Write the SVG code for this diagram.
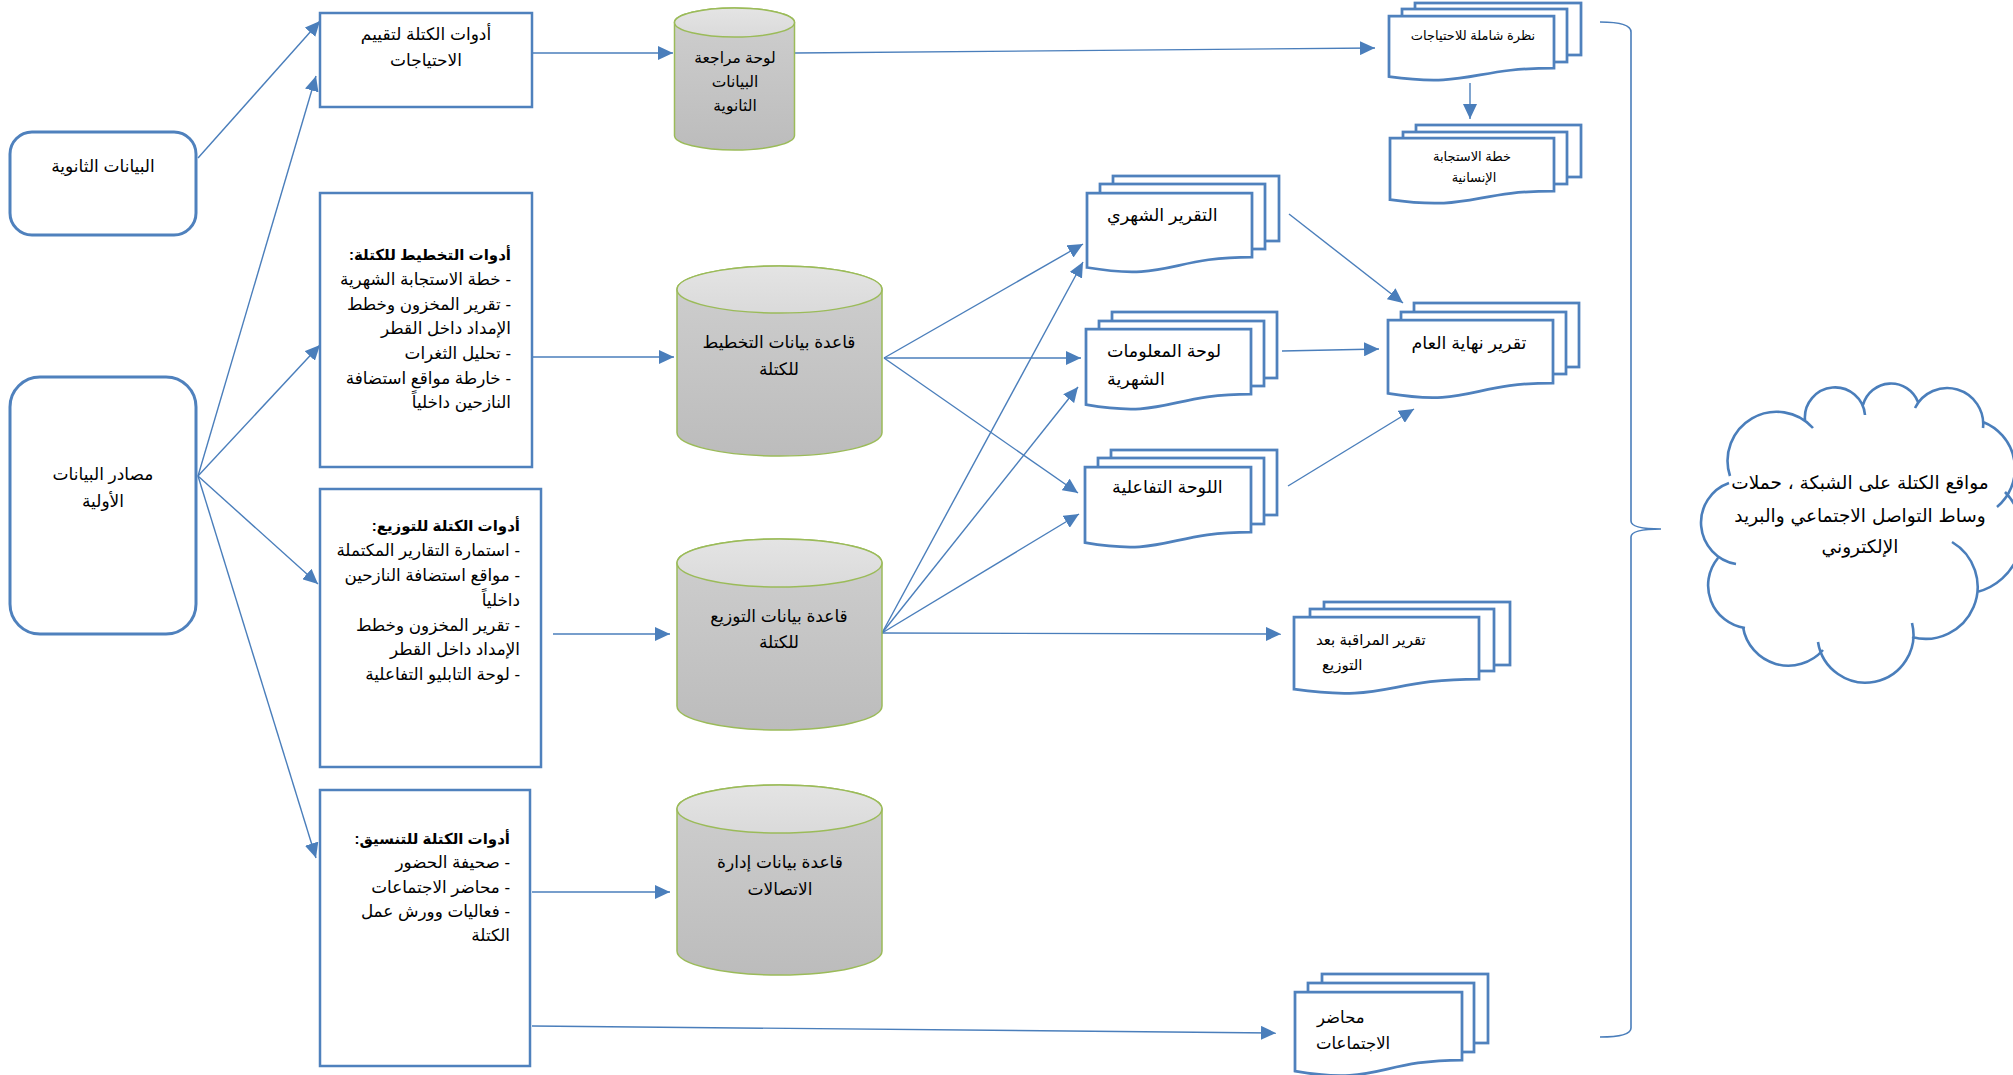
<svg xmlns="http://www.w3.org/2000/svg" width="2013" height="1075" viewBox="0 0 2013 1075">
<style>
  .box{fill:#fff;stroke:#4F81BD;stroke-width:2.5}
  .rbox{fill:#fff;stroke:#4F81BD;stroke-width:3}
  .doc{fill:#fff;stroke:#4F81BD;stroke-width:2.75}
  .cylb{fill:url(#gBody);stroke:#9BBB59;stroke-width:1.5}
  .cylt{fill:url(#gTop);stroke:#9BBB59;stroke-width:1.5}
  .conn{fill:none;stroke:#4A7EBB;stroke-width:1.4;marker-end:url(#arr)}
  .line{fill:none;stroke:#4A7EBB;stroke-width:1.6}
  .cloud{fill:none;stroke:#4A7EBB;stroke-width:2.6}
  text{font-family:"Liberation Sans","DejaVu Sans",sans-serif;font-size:16.8px;fill:#000}
  .rtl{direction:rtl}
  .c{text-anchor:middle}
  .b{font-weight:bold;font-size:15px}
  .cl{font-family:"DejaVu Sans",sans-serif;font-size:18.5px}
</style>
<defs>
  <marker id="arr" markerUnits="userSpaceOnUse" markerWidth="16" markerHeight="14" refX="15" refY="7" orient="auto">
    <path d="M0,0 L15,7 L0,14 z" fill="#4A7EBB"/>
  </marker>
  <linearGradient id="gBody" x1="0" y1="0" x2="0" y2="1">
    <stop offset="0" stop-color="#cfcfcf"/>
    <stop offset="1" stop-color="#bcbcbc"/>
  </linearGradient>
  <linearGradient id="gTop" x1="0" y1="0" x2="0" y2="1">
    <stop offset="0" stop-color="#e4e4e4"/>
    <stop offset="1" stop-color="#dadada"/>
  </linearGradient>
</defs>

<g id="connectors">
  <path class="conn" d="M198,158 L320,21"/>
  <path class="conn" d="M198,476 L316,76"/>
  <path class="conn" d="M198,476 L320,345"/>
  <path class="conn" d="M198,476 L318,584"/>
  <path class="conn" d="M198,476 L316,858"/>
  <path class="conn" d="M532,53 L673,53"/>
  <path class="conn" d="M795,53 L1375,48"/>
  <path class="conn" d="M1470,83 L1470,119"/>
  <path class="conn" d="M532,357 L674,357"/>
  <path class="conn" d="M553,634 L670,634"/>
  <path class="conn" d="M532,892 L670,892"/>
  <path class="conn" d="M532,1026 L1276,1033"/>
  <path class="conn" d="M884,358 L1083,244"/>
  <path class="conn" d="M884,358 L1081,358"/>
  <path class="conn" d="M884,358 L1078,493"/>
  <path class="conn" d="M882,633 L1083,262"/>
  <path class="conn" d="M882,633 L1078,387"/>
  <path class="conn" d="M882,633 L1079,514"/>
  <path class="conn" d="M882,633 L1281,634"/>
  <path class="conn" d="M1289,214 L1403,303"/>
  <path class="conn" d="M1282,351 L1379,349"/>
  <path class="conn" d="M1288,486 L1414,409"/>
</g>

<g id="n-secondary">
  <rect class="rbox" x="10" y="132" width="186" height="103" rx="22"/>
  <text class="c rtl" x="103" y="172" style="font-size:17px">البيانات الثانوية</text>
</g>
<g id="n-primary">
  <rect class="rbox" x="10" y="377" width="186" height="257" rx="30"/>
  <text class="c rtl" x="103" y="480" style="font-size:17px">مصادر البيانات</text>
  <text class="c rtl" x="103" y="507" style="font-size:17px">الأولية</text>
</g>

<g id="n-needs-tools">
  <rect class="box" x="320" y="13" width="212" height="94"/>
  <text class="c rtl" x="426" y="40" style="font-size:17px">أدوات الكتلة لتقييم</text>
  <text class="c rtl" x="426" y="66" style="font-size:17px">الاحتياجات</text>
</g>
<g id="n-planning-tools">
  <rect class="box" x="320" y="193" width="212" height="274"/>
  <text class="rtl b" x="511" y="260">أدوات التخطيط للكتلة:</text>
  <text class="rtl" x="511" y="285">- خطة الاستجابة الشهرية</text>
  <text class="rtl" x="511" y="310">- تقرير المخزون وخطط</text>
  <text class="rtl" x="511" y="334">الإمداد داخل القطر</text>
  <text class="rtl" x="511" y="359">- تحليل الثغرات</text>
  <text class="rtl" x="511" y="384">- خارطة مواقع استضافة</text>
  <text class="rtl" x="511" y="408">النازحين داخلياً</text>
</g>
<g id="n-dist-tools">
  <rect class="box" x="320" y="489" width="221" height="278"/>
  <text class="rtl b" x="520" y="531">أدوات الكتلة للتوزيع:</text>
  <text class="rtl" x="520" y="556">- استمارة التقارير المكتملة</text>
  <text class="rtl" x="520" y="581">- مواقع استضافة النازحين</text>
  <text class="rtl" x="520" y="606">داخلياً</text>
  <text class="rtl" x="520" y="631">- تقرير المخزون وخطط</text>
  <text class="rtl" x="520" y="655">الإمداد داخل القطر</text>
  <text class="rtl" x="520" y="680">- لوحة التابليو التفاعلية</text>
</g>
<g id="n-coord-tools">
  <rect class="box" x="320" y="790" width="210" height="276"/>
  <text class="rtl b" x="510" y="844">أدوات الكتلة للتنسيق:</text>
  <text class="rtl" x="510" y="868">- صحيفة الحضور</text>
  <text class="rtl" x="510" y="893">- محاضر الاجتماعات</text>
  <text class="rtl" x="510" y="917">- فعاليات وورش عمل</text>
  <text class="rtl" x="510" y="941">الكتلة</text>
</g>

<g id="n-sec-review">
  <path class="cylb" d="M674.5,22.5 L674.5,135.5 A60,14.5 0 0 0 794.5,135.5 L794.5,22.5 A60,14.5 0 0 0 674.5,22.5 Z"/>
  <ellipse class="cylt" cx="734.5" cy="22.5" rx="60" ry="14.5"/>
  <text class="c rtl" x="735" y="63" style="font-size:15.5px">لوحة مراجعة</text>
  <text class="c rtl" x="735" y="87" style="font-size:15.5px">البيانات</text>
  <text class="c rtl" x="735" y="111" style="font-size:15.5px">الثانوية</text>
</g>
<g id="n-planning-db">
  <path class="cylb" d="M677,289.5 L677,432.5 A102.5,23.5 0 0 0 882,432.5 L882,289.5 A102.5,23.5 0 0 0 677,289.5 Z"/>
  <ellipse class="cylt" cx="779.5" cy="289.5" rx="102.5" ry="23.5"/>
  <text class="c rtl" x="779" y="348" style="font-size:17px">قاعدة بيانات التخطيط</text>
  <text class="c rtl" x="779" y="375" style="font-size:17px">للكتلة</text>
</g>
<g id="n-dist-db">
  <path class="cylb" d="M677,563 L677,706 A102.5,24 0 0 0 882,706 L882,563 A102.5,24 0 0 0 677,563 Z"/>
  <ellipse class="cylt" cx="779.5" cy="563" rx="102.5" ry="24"/>
  <text class="c rtl" x="779" y="622" style="font-size:17px">قاعدة بيانات التوزيع</text>
  <text class="c rtl" x="779" y="648" style="font-size:17px">للكتلة</text>
</g>
<g id="n-comm-db">
  <path class="cylb" d="M677,809 L677,951 A102.5,24 0 0 0 882,951 L882,809 A102.5,24 0 0 0 677,809 Z"/>
  <ellipse class="cylt" cx="779.5" cy="809" rx="102.5" ry="24"/>
  <text class="c rtl" x="780" y="868" style="font-size:17px">قاعدة بيانات إدارة</text>
  <text class="c rtl" x="780" y="895" style="font-size:17px">الاتصالات</text>
</g>

<g id="n-needs-overview">
  <rect class="doc" x="1415" y="3" width="166" height="52"/>
  <rect class="doc" x="1402" y="9" width="165" height="53"/>
  <path class="doc" d="M1389,16 H1554 V68 C1471.5,68 1471.5,87.8 1389,76.6 Z"/>
  <text class="c rtl" x="1473" y="40" style="font-size:13px">نظرة شاملة للاحتياجات</text>
</g>
<g id="n-hrp">
  <rect class="doc" x="1416" y="125" width="165" height="52"/>
  <rect class="doc" x="1403" y="132" width="164" height="52"/>
  <path class="doc" d="M1390,138 H1554 V191 C1472,191 1472,211.2 1390,199.7 Z"/>
  <text class="c rtl" x="1472" y="161" style="font-size:13px">خطة الاستجابة</text>
  <text class="c rtl" x="1474" y="182" style="font-size:13px">الإنسانية</text>
</g>
<g id="n-monthly-report">
  <rect class="doc" x="1113" y="176" width="166" height="65"/>
  <rect class="doc" x="1100" y="184" width="165" height="65"/>
  <path class="doc" d="M1087,193 H1252 V257 C1169.5,257 1169.5,281.4 1087,267.5 Z"/>
  <text x="1107" y="221" style="font-size:17.5px">التقرير الشهري</text>
</g>
<g id="n-yearend">
  <rect class="doc" x="1414" y="303" width="165" height="64"/>
  <rect class="doc" x="1401" y="312" width="165" height="62"/>
  <path class="doc" d="M1388,320 H1553 V383 C1470.5,383 1470.5,407 1388,393.4 Z"/>
  <text class="c rtl" x="1469" y="349" style="font-size:17.5px">تقرير نهاية العام</text>
</g>
<g id="n-monthly-dash">
  <rect class="doc" x="1112" y="312" width="165" height="66"/>
  <rect class="doc" x="1099" y="321" width="165" height="65"/>
  <path class="doc" d="M1086,329 H1251 V394 C1168.5,394 1168.5,418.8 1086,404.7 Z"/>
  <text x="1107" y="357" style="font-size:17.5px">لوحة المعلومات</text>
  <text x="1107" y="385" style="font-size:17.5px">الشهرية</text>
</g>
<g id="n-interactive">
  <rect class="doc" x="1111" y="450" width="166" height="65"/>
  <rect class="doc" x="1098" y="458" width="166" height="66"/>
  <path class="doc" d="M1085,467 H1251 V532 C1168,532 1168,556.8 1085,542.7 Z"/>
  <text x="1112" y="493" style="font-size:17.5px">اللوحة التفاعلية</text>
</g>
<g id="n-pdm">
  <rect class="doc" x="1324" y="602" width="186" height="63"/>
  <rect class="doc" x="1310" y="609" width="184" height="62"/>
  <path class="doc" d="M1294,617 H1479 V679 C1386.5,679 1386.5,702.6 1294,689.2 Z"/>
  <text x="1316" y="645" style="font-size:15px">تقرير المراقبة بعد</text>
  <text x="1322" y="670" style="font-size:15px">التوزيع</text>
</g>
<g id="n-minutes">
  <rect class="doc" x="1322" y="974" width="166" height="69"/>
  <rect class="doc" x="1308" y="983" width="166" height="69"/>
  <path class="doc" d="M1295,992 H1462 V1060 C1378.5,1060 1378.5,1085.9 1295,1071.2 Z"/>
  <text x="1317" y="1023" style="font-size:16.5px">محاضر</text>
  <text x="1316" y="1049" style="font-size:16.5px">الاجتماعات</text>
</g>

<g id="n-brace">
  <path class="line" d="M1600,22 Q1631,22 1631,32 L1631,521 Q1631,529 1661,529 Q1631,529 1631,537 L1631,1028 Q1631,1037 1600,1037"/>
</g>

<g id="n-cloud">
  <path class="cloud" d="M1736,564 A42,42 0 0 1 1729,483
    M1730,476 A49,49 0 0 1 1813,428
    M1805,420 A30,30 0 0 1 1865,415
    M1863,405 A29,29 0 0 1 1918,402
    M1915,408 A36,36 0 0 1 1983,428
    M1983,422 A50,50 0 0 1 1997,507
    M2005,492 A60,60 0 0 1 1977,592
    M1952,542 A52,52 0 0 1 1912,637
    M1912,623 A48,48 0 1 1 1818,642
    M1823,650 A46,46 0 0 1 1743,627
    M1745,628 A43,43 0 0 1 1718,558"/>
  <text class="c rtl cl" x="1860" y="489">مواقع الكتلة على الشبكة ، حملات</text>
  <text class="c rtl cl" x="1860" y="522">وساط التواصل الاجتماعي والبريد</text>
  <text class="c rtl cl" x="1860" y="553">الإلكتروني</text>
</g>
</svg>
